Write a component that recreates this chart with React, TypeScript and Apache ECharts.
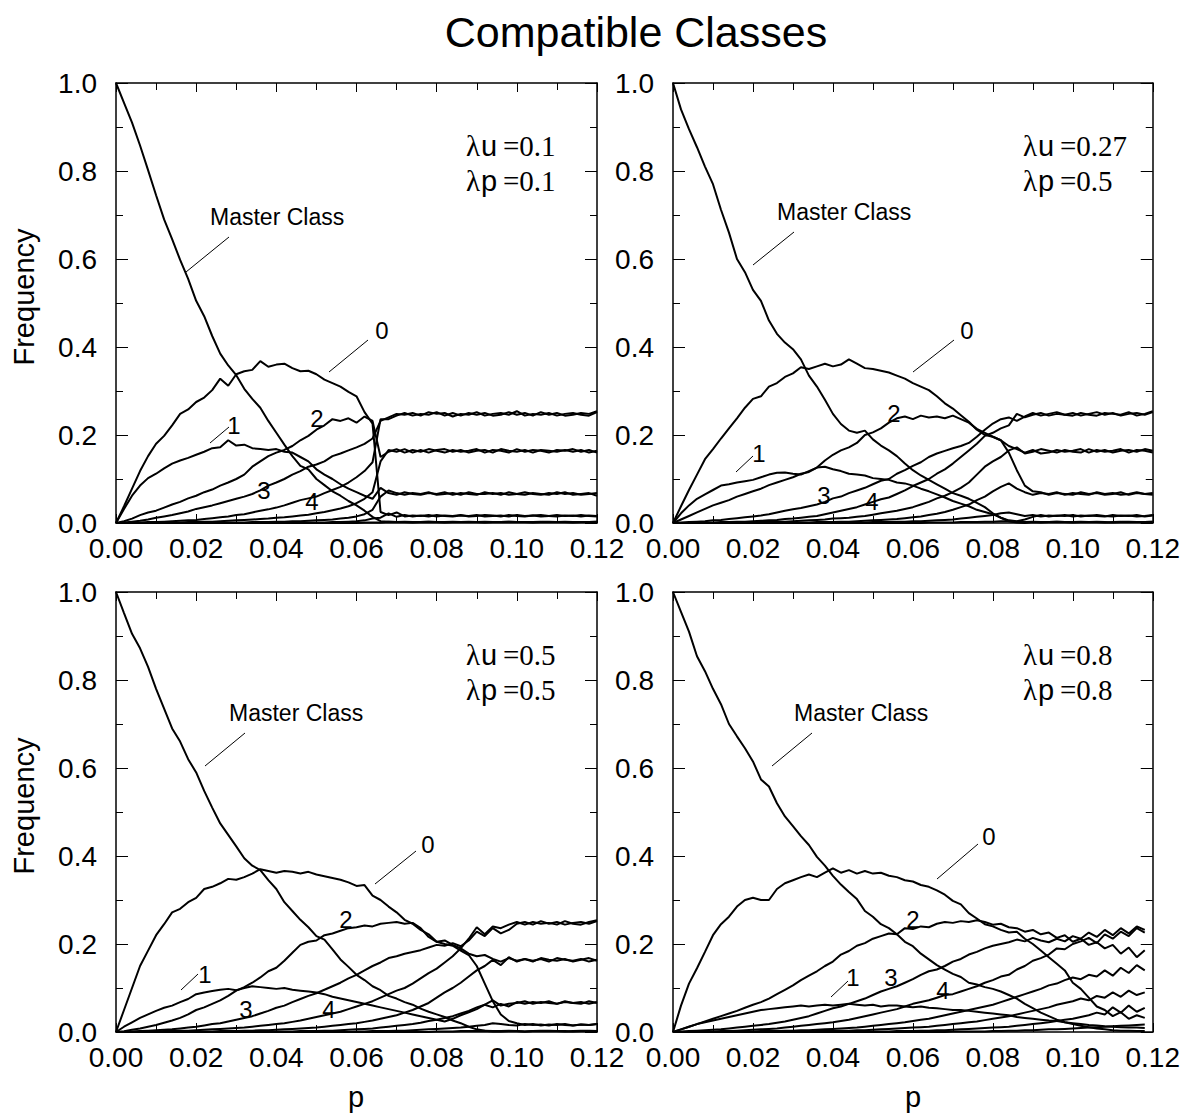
import React, { useEffect, useRef } from "react";
import * as echarts from "echarts";

// ---------- sampling positions (p) ----------
const pGrid = [
  0.000, 0.002, 0.004, 0.006, 0.008, 0.010, 0.012, 0.014, 0.016, 0.018,
  0.020, 0.022, 0.024, 0.026, 0.028, 0.030, 0.032, 0.034, 0.036, 0.038,
  0.040, 0.042, 0.044, 0.046, 0.048, 0.050, 0.052, 0.054, 0.056, 0.058,
  0.060, 0.062, 0.064, 0.066, 0.068, 0.070, 0.072, 0.074, 0.076, 0.078,
  0.080, 0.082, 0.084, 0.086, 0.088, 0.090, 0.092, 0.094, 0.096, 0.098,
  0.100, 0.102, 0.104, 0.106, 0.108, 0.110, 0.112, 0.114, 0.116, 0.118,
  0.120,
];

const xTickLabels = ["0.00", "0.02", "0.04", "0.06", "0.08", "0.10", "0.12"];
const yTickLabels = ["0.0", "0.2", "0.4", "0.6", "0.8", "1.0"];

// ---------- Panel 1: λu=0.1, λp=0.1 ----------
const p1Master = [
  1.000, 0.955, 0.910, 0.858, 0.802, 0.745, 0.690, 0.645, 0.598, 0.555,
  0.505, 0.470, 0.425, 0.385, 0.358, 0.336, 0.305, 0.282, 0.262, 0.232,
  0.205, 0.178, 0.152, 0.130, 0.122, 0.100, 0.086, 0.072, 0.062, 0.050,
  0.040, 0.028, 0.014, 0.004, 0.003, 0.002, 0.003, 0.002, 0.002, 0.003,
  0.002, 0.002, 0.003, 0.002, 0.002, 0.002, 0.003, 0.002, 0.002, 0.003,
  0.002, 0.002, 0.002, 0.003, 0.002, 0.002, 0.003, 0.002, 0.002, 0.002,
  0.003,
];
const p1C0 = [
  0.000, 0.038, 0.078, 0.118, 0.152, 0.180, 0.198, 0.222, 0.248, 0.258,
  0.275, 0.285, 0.302, 0.328, 0.312, 0.338, 0.345, 0.348, 0.368, 0.355,
  0.360, 0.362, 0.352, 0.345, 0.346, 0.338, 0.326, 0.318, 0.310, 0.298,
  0.288, 0.252, 0.226, 0.025, 0.018, 0.024, 0.015, 0.017, 0.016, 0.018,
  0.015, 0.017, 0.016, 0.018, 0.015, 0.016, 0.018, 0.017, 0.015, 0.018,
  0.016, 0.015, 0.017, 0.018, 0.016, 0.015, 0.017, 0.016, 0.018, 0.016,
  0.015,
];
const p1C1 = [
  0.000, 0.032, 0.062, 0.085, 0.102, 0.112, 0.124, 0.135, 0.142, 0.148,
  0.155, 0.162, 0.170, 0.172, 0.188, 0.176, 0.178, 0.170, 0.168, 0.166,
  0.168, 0.162, 0.160, 0.150, 0.140, 0.122, 0.110, 0.100, 0.088, 0.078,
  0.070, 0.062, 0.055, 0.080, 0.068, 0.064, 0.070, 0.066, 0.064, 0.068,
  0.066, 0.070, 0.064, 0.068, 0.066, 0.064, 0.070, 0.066, 0.068, 0.064,
  0.066, 0.070, 0.066, 0.064, 0.068, 0.066, 0.070, 0.064, 0.066, 0.068,
  0.062,
];
const p1C2 = [
  0.000, 0.004, 0.010, 0.018, 0.024, 0.028, 0.035, 0.042, 0.048, 0.056,
  0.062, 0.070, 0.076, 0.085, 0.092, 0.100, 0.110, 0.128, 0.140, 0.152,
  0.160, 0.166, 0.175, 0.188, 0.198, 0.212, 0.222, 0.236, 0.232, 0.238,
  0.228, 0.242, 0.232, 0.150, 0.162, 0.168, 0.160, 0.166, 0.162, 0.168,
  0.164, 0.160, 0.166, 0.162, 0.164, 0.168, 0.160, 0.166, 0.164, 0.160,
  0.168, 0.162, 0.166, 0.164, 0.160, 0.166, 0.164, 0.168, 0.162, 0.166,
  0.160,
];
const p1C3 = [
  0.000, 0.001, 0.003, 0.005, 0.008, 0.012, 0.015, 0.018, 0.022, 0.026,
  0.032, 0.036, 0.040, 0.045, 0.050, 0.055, 0.060, 0.066, 0.074, 0.085,
  0.092, 0.100, 0.110, 0.118, 0.128, 0.133, 0.140, 0.152, 0.158, 0.165,
  0.172, 0.180, 0.192, 0.232, 0.240, 0.248, 0.246, 0.250, 0.244, 0.252,
  0.248, 0.250, 0.242, 0.248, 0.246, 0.252, 0.244, 0.248, 0.250, 0.246,
  0.254, 0.244, 0.248, 0.246, 0.250, 0.244, 0.248, 0.250, 0.246, 0.244,
  0.252,
];
const p1C4 = [
  0.000, 0.000, 0.001, 0.001, 0.002, 0.002, 0.003, 0.004, 0.005, 0.006,
  0.007, 0.009, 0.011, 0.013, 0.015, 0.018, 0.020, 0.024, 0.028, 0.031,
  0.035, 0.040, 0.046, 0.052, 0.056, 0.060, 0.068, 0.075, 0.082, 0.092,
  0.104, 0.118, 0.138, 0.236, 0.236, 0.244, 0.250, 0.244, 0.248, 0.246,
  0.252, 0.244, 0.250, 0.244, 0.250, 0.246, 0.250, 0.244, 0.246, 0.252,
  0.246, 0.250, 0.244, 0.252, 0.246, 0.250, 0.244, 0.246, 0.250, 0.248,
  0.254,
];
const p1C5 = [
  0.000, 0.000, 0.000, 0.000, 0.000, 0.001, 0.001, 0.001, 0.001, 0.002,
  0.002, 0.003, 0.003, 0.004, 0.005, 0.006, 0.007, 0.008, 0.009, 0.010,
  0.012, 0.013, 0.015, 0.017, 0.019, 0.022, 0.025, 0.029, 0.033, 0.038,
  0.045, 0.055, 0.070, 0.140, 0.166, 0.162, 0.168, 0.160, 0.166, 0.160,
  0.166, 0.168, 0.162, 0.166, 0.160, 0.164, 0.166, 0.160, 0.168, 0.164,
  0.162, 0.166, 0.160, 0.166, 0.164, 0.162, 0.166, 0.162, 0.166, 0.160,
  0.164,
];
const p1C6 = [
  0.000, 0.000, 0.000, 0.000, 0.000, 0.000, 0.000, 0.000, 0.000, 0.000,
  0.000, 0.000, 0.001, 0.001, 0.001, 0.001, 0.001, 0.002, 0.002, 0.002,
  0.003, 0.003, 0.004, 0.004, 0.005, 0.006, 0.007, 0.008, 0.010, 0.012,
  0.015, 0.020, 0.030, 0.060, 0.074, 0.068, 0.064, 0.068, 0.066, 0.070,
  0.064, 0.066, 0.068, 0.064, 0.070, 0.066, 0.066, 0.068, 0.064, 0.070,
  0.066, 0.064, 0.068, 0.066, 0.064, 0.070, 0.066, 0.068, 0.064, 0.066,
  0.068,
];
const p1C7 = [
  0.000, 0.000, 0.000, 0.000, 0.000, 0.000, 0.000, 0.000, 0.000, 0.000,
  0.000, 0.000, 0.000, 0.000, 0.000, 0.000, 0.000, 0.000, 0.000, 0.000,
  0.000, 0.000, 0.000, 0.001, 0.001, 0.001, 0.001, 0.002, 0.002, 0.003,
  0.004, 0.006, 0.010, 0.012, 0.022, 0.014, 0.018, 0.015, 0.017, 0.015,
  0.018, 0.016, 0.015, 0.017, 0.016, 0.018, 0.015, 0.016, 0.017, 0.015,
  0.018, 0.016, 0.017, 0.015, 0.016, 0.018, 0.016, 0.017, 0.015, 0.017,
  0.016,
];
const p1C8 = [
  0.000, 0.000, 0.000, 0.000, 0.000, 0.000, 0.000, 0.000, 0.000, 0.000,
  0.000, 0.000, 0.000, 0.000, 0.000, 0.000, 0.000, 0.000, 0.000, 0.000,
  0.000, 0.000, 0.000, 0.000, 0.000, 0.000, 0.000, 0.000, 0.000, 0.000,
  0.000, 0.001, 0.001, 0.001, 0.003, 0.002, 0.002, 0.001, 0.002, 0.003,
  0.002, 0.001, 0.002, 0.002, 0.003, 0.002, 0.001, 0.002, 0.002, 0.003,
  0.002, 0.002, 0.001, 0.002, 0.003, 0.002, 0.002, 0.001, 0.002, 0.002,
  0.003,
];

// ---------- Panel 2: λu=0.27, λp=0.5 ----------
const p2Master = [
  1.000, 0.940, 0.895, 0.854, 0.810, 0.770, 0.712, 0.660, 0.600, 0.570,
  0.530, 0.505, 0.460, 0.430, 0.410, 0.395, 0.372, 0.335, 0.310, 0.280,
  0.248, 0.225, 0.210, 0.205, 0.210, 0.190, 0.176, 0.165, 0.152, 0.135,
  0.120, 0.108, 0.098, 0.088, 0.078, 0.068, 0.062, 0.055, 0.046, 0.036,
  0.022, 0.012, 0.004, 0.001, 0.000, 0.002, 0.001, 0.002, 0.003, 0.002,
  0.001, 0.002, 0.002, 0.003, 0.002, 0.001, 0.002, 0.003, 0.002, 0.002,
  0.003,
];
const p2C0 = [
  0.000, 0.038, 0.075, 0.110, 0.145, 0.168, 0.192, 0.215, 0.238, 0.262,
  0.282, 0.288, 0.310, 0.318, 0.332, 0.340, 0.354, 0.350, 0.356, 0.362,
  0.356, 0.360, 0.372, 0.362, 0.352, 0.350, 0.346, 0.342, 0.335, 0.328,
  0.318, 0.310, 0.302, 0.288, 0.272, 0.260, 0.245, 0.230, 0.212, 0.200,
  0.196, 0.188, 0.160, 0.120, 0.085, 0.072, 0.070, 0.064, 0.068, 0.066,
  0.064, 0.070, 0.066, 0.068, 0.064, 0.066, 0.070, 0.064, 0.068, 0.066,
  0.064,
];
const p2C1 = [
  0.000, 0.022, 0.040, 0.055, 0.065, 0.075, 0.085, 0.088, 0.092, 0.095,
  0.098, 0.104, 0.110, 0.114, 0.115, 0.112, 0.110, 0.118, 0.126, 0.128,
  0.122, 0.118, 0.112, 0.110, 0.108, 0.102, 0.100, 0.098, 0.092, 0.090,
  0.085, 0.078, 0.072, 0.065, 0.058, 0.050, 0.044, 0.038, 0.030, 0.025,
  0.020, 0.012, 0.006, 0.004, 0.008, 0.014, 0.018, 0.015, 0.017, 0.016,
  0.018, 0.015, 0.017, 0.016, 0.015, 0.018, 0.016, 0.017, 0.015, 0.016,
  0.018,
];
const p2C2 = [
  0.000, 0.008, 0.016, 0.024, 0.032, 0.040, 0.046, 0.052, 0.060, 0.066,
  0.072, 0.078, 0.086, 0.092, 0.098, 0.104, 0.112, 0.116, 0.126, 0.142,
  0.155, 0.165, 0.172, 0.182, 0.200, 0.206, 0.215, 0.228, 0.238, 0.242,
  0.236, 0.244, 0.240, 0.242, 0.238, 0.244, 0.236, 0.228, 0.214, 0.205,
  0.196, 0.188, 0.175, 0.168, 0.160, 0.166, 0.158, 0.160, 0.166, 0.162,
  0.164, 0.168, 0.160, 0.166, 0.162, 0.164, 0.168, 0.160, 0.166, 0.164,
  0.160,
];
const p2C3 = [
  0.000, 0.001, 0.002, 0.003, 0.004, 0.006, 0.007, 0.009, 0.011, 0.013,
  0.015, 0.017, 0.020, 0.024, 0.028, 0.031, 0.034, 0.038, 0.042, 0.048,
  0.056, 0.060, 0.068, 0.074, 0.080, 0.088, 0.096, 0.100, 0.112, 0.120,
  0.130, 0.138, 0.150, 0.158, 0.164, 0.170, 0.175, 0.182, 0.196, 0.212,
  0.226, 0.236, 0.240, 0.232, 0.242, 0.250, 0.244, 0.248, 0.252, 0.246,
  0.250, 0.244, 0.248, 0.252, 0.246, 0.250, 0.244, 0.248, 0.250, 0.246,
  0.252,
];
const p2C4 = [
  0.000, 0.000, 0.000, 0.001, 0.001, 0.001, 0.002, 0.002, 0.003, 0.003,
  0.004, 0.005, 0.006, 0.007, 0.009, 0.010, 0.012, 0.014, 0.016, 0.020,
  0.024, 0.028, 0.032, 0.036, 0.042, 0.048, 0.054, 0.058, 0.066, 0.074,
  0.084, 0.092, 0.100, 0.112, 0.122, 0.135, 0.150, 0.165, 0.180, 0.198,
  0.205, 0.215, 0.222, 0.248, 0.240, 0.246, 0.250, 0.244, 0.248, 0.246,
  0.244, 0.250, 0.246, 0.244, 0.250, 0.248, 0.246, 0.252, 0.244, 0.248,
  0.254,
];
const p2C5 = [
  0.000, 0.000, 0.000, 0.000, 0.000, 0.000, 0.000, 0.001, 0.001, 0.001,
  0.001, 0.002, 0.002, 0.003, 0.003, 0.004, 0.005, 0.006, 0.007, 0.008,
  0.010, 0.011, 0.012, 0.014, 0.016, 0.019, 0.022, 0.025, 0.028, 0.032,
  0.036, 0.042, 0.048, 0.056, 0.062, 0.070, 0.080, 0.092, 0.110, 0.128,
  0.140, 0.150, 0.165, 0.172, 0.158, 0.162, 0.168, 0.164, 0.160, 0.166,
  0.162, 0.160, 0.168, 0.162, 0.166, 0.160, 0.164, 0.166, 0.162, 0.168,
  0.164,
];
const p2C6 = [
  0.000, 0.000, 0.000, 0.000, 0.000, 0.000, 0.000, 0.000, 0.000, 0.000,
  0.000, 0.000, 0.000, 0.000, 0.001, 0.001, 0.001, 0.001, 0.002, 0.002,
  0.002, 0.003, 0.003, 0.004, 0.005, 0.006, 0.007, 0.008, 0.009, 0.011,
  0.013, 0.015, 0.018, 0.021, 0.025, 0.030, 0.036, 0.042, 0.052, 0.060,
  0.072, 0.082, 0.090, 0.078, 0.070, 0.064, 0.068, 0.066, 0.070, 0.064,
  0.068, 0.066, 0.064, 0.070, 0.066, 0.068, 0.064, 0.066, 0.070, 0.066,
  0.068,
];
const p2C7 = [
  0.000, 0.000, 0.000, 0.000, 0.000, 0.000, 0.000, 0.000, 0.000, 0.000,
  0.000, 0.000, 0.000, 0.000, 0.000, 0.000, 0.000, 0.000, 0.000, 0.000,
  0.000, 0.001, 0.001, 0.001, 0.001, 0.002, 0.002, 0.002, 0.003, 0.003,
  0.004, 0.004, 0.005, 0.006, 0.007, 0.008, 0.010, 0.012, 0.014, 0.016,
  0.018, 0.022, 0.024, 0.020, 0.016, 0.018, 0.015, 0.017, 0.016, 0.018,
  0.015, 0.017, 0.016, 0.018, 0.016, 0.015, 0.017, 0.016, 0.018, 0.015,
  0.017,
];
const p2C8 = [
  0.000, 0.000, 0.000, 0.000, 0.000, 0.000, 0.000, 0.000, 0.000, 0.000,
  0.000, 0.000, 0.000, 0.000, 0.000, 0.000, 0.000, 0.000, 0.000, 0.000,
  0.000, 0.000, 0.000, 0.000, 0.000, 0.000, 0.000, 0.000, 0.000, 0.000,
  0.000, 0.000, 0.001, 0.001, 0.001, 0.001, 0.002, 0.002, 0.002, 0.003,
  0.003, 0.004, 0.004, 0.003, 0.002, 0.003, 0.002, 0.002, 0.003, 0.002,
  0.002, 0.003, 0.002, 0.002, 0.001, 0.002, 0.003, 0.002, 0.002, 0.002,
  0.003,
];

// ---------- Panel 3: λu=0.5, λp=0.5 ----------
const p3Master = [
  1.000, 0.952, 0.905, 0.872, 0.830, 0.780, 0.735, 0.690, 0.660, 0.620,
  0.590, 0.548, 0.510, 0.474, 0.448, 0.422, 0.395, 0.378, 0.368, 0.345,
  0.325, 0.295, 0.275, 0.255, 0.238, 0.218, 0.210, 0.188, 0.165, 0.148,
  0.130, 0.118, 0.104, 0.095, 0.082, 0.076, 0.068, 0.062, 0.053, 0.046,
  0.040, 0.034, 0.026, 0.020, 0.012, 0.006, 0.003, 0.001, 0.001, 0.002,
  0.002, 0.001, 0.002, 0.003, 0.002, 0.002, 0.001, 0.002, 0.003, 0.002,
  0.002,
];
const p3C0 = [
  0.000, 0.050, 0.100, 0.150, 0.185, 0.220, 0.245, 0.272, 0.280, 0.295,
  0.305, 0.325, 0.330, 0.338, 0.348, 0.346, 0.352, 0.360, 0.370, 0.366,
  0.362, 0.366, 0.364, 0.360, 0.364, 0.358, 0.354, 0.350, 0.346, 0.340,
  0.332, 0.334, 0.310, 0.300, 0.285, 0.272, 0.255, 0.246, 0.232, 0.222,
  0.205, 0.200, 0.196, 0.185, 0.175, 0.150, 0.110, 0.070, 0.040, 0.025,
  0.020, 0.016, 0.018, 0.015, 0.017, 0.016, 0.018, 0.015, 0.017, 0.016,
  0.018,
];
const p3C1 = [
  0.000, 0.012, 0.022, 0.032, 0.040, 0.048, 0.055, 0.060, 0.068, 0.075,
  0.086, 0.090, 0.093, 0.096, 0.098, 0.095, 0.100, 0.104, 0.102, 0.100,
  0.098, 0.100, 0.096, 0.094, 0.092, 0.090, 0.086, 0.080, 0.076, 0.072,
  0.068, 0.064, 0.060, 0.056, 0.052, 0.048, 0.044, 0.040, 0.036, 0.032,
  0.028, 0.024, 0.030, 0.038, 0.045, 0.052, 0.062, 0.056, 0.064, 0.058,
  0.068, 0.064, 0.068, 0.066, 0.070, 0.064, 0.068, 0.066, 0.064, 0.070,
  0.066,
];
const p3C2 = [
  0.000, 0.002, 0.005, 0.008, 0.012, 0.016, 0.021, 0.026, 0.032, 0.040,
  0.050, 0.056, 0.064, 0.072, 0.082, 0.094, 0.102, 0.112, 0.124, 0.138,
  0.146, 0.162, 0.180, 0.198, 0.205, 0.208, 0.220, 0.224, 0.230, 0.236,
  0.238, 0.242, 0.240, 0.246, 0.248, 0.250, 0.246, 0.248, 0.236, 0.216,
  0.205, 0.208, 0.198, 0.190, 0.178, 0.172, 0.175, 0.166, 0.160, 0.168,
  0.162, 0.166, 0.160, 0.168, 0.164, 0.162, 0.166, 0.160, 0.164, 0.168,
  0.162,
];
const p3C3 = [
  0.000, 0.000, 0.001, 0.002, 0.003, 0.004, 0.005, 0.006, 0.008, 0.010,
  0.012, 0.015, 0.018, 0.020, 0.024, 0.028, 0.032, 0.036, 0.042, 0.048,
  0.055, 0.060, 0.068, 0.075, 0.082, 0.088, 0.096, 0.104, 0.112, 0.122,
  0.130, 0.140, 0.150, 0.158, 0.168, 0.172, 0.178, 0.182, 0.186, 0.192,
  0.198, 0.196, 0.202, 0.195, 0.208, 0.228, 0.218, 0.236, 0.224, 0.232,
  0.246, 0.250, 0.244, 0.252, 0.246, 0.250, 0.244, 0.248, 0.250, 0.246,
  0.252,
];
const p3C4 = [
  0.000, 0.000, 0.000, 0.001, 0.001, 0.001, 0.002, 0.002, 0.003, 0.003,
  0.004, 0.005, 0.006, 0.007, 0.008, 0.009, 0.010, 0.012, 0.014, 0.016,
  0.018, 0.020, 0.023, 0.026, 0.030, 0.034, 0.038, 0.042, 0.046, 0.052,
  0.058, 0.064, 0.070, 0.078, 0.086, 0.094, 0.100, 0.110, 0.122, 0.134,
  0.144, 0.158, 0.172, 0.190, 0.212, 0.238, 0.222, 0.240, 0.236, 0.244,
  0.250, 0.244, 0.250, 0.246, 0.248, 0.244, 0.252, 0.246, 0.244, 0.250,
  0.254,
];
const p3C5 = [
  0.000, 0.000, 0.000, 0.000, 0.000, 0.000, 0.000, 0.000, 0.001, 0.001,
  0.001, 0.001, 0.001, 0.002, 0.002, 0.002, 0.003, 0.003, 0.004, 0.004,
  0.005, 0.006, 0.007, 0.008, 0.009, 0.010, 0.012, 0.014, 0.016, 0.018,
  0.020, 0.023, 0.026, 0.030, 0.034, 0.038, 0.044, 0.050, 0.058, 0.066,
  0.078, 0.090, 0.100, 0.112, 0.126, 0.140, 0.150, 0.164, 0.152, 0.170,
  0.160, 0.166, 0.162, 0.166, 0.160, 0.168, 0.164, 0.162, 0.166, 0.160,
  0.164,
];
const p3C6 = [
  0.000, 0.000, 0.000, 0.000, 0.000, 0.000, 0.000, 0.000, 0.000, 0.000,
  0.000, 0.000, 0.000, 0.000, 0.000, 0.000, 0.000, 0.000, 0.000, 0.000,
  0.001, 0.001, 0.001, 0.002, 0.002, 0.002, 0.003, 0.003, 0.004, 0.005,
  0.006, 0.007, 0.008, 0.010, 0.012, 0.014, 0.016, 0.018, 0.021, 0.025,
  0.028, 0.032, 0.036, 0.042, 0.048, 0.056, 0.062, 0.072, 0.060, 0.064,
  0.066, 0.070, 0.064, 0.068, 0.066, 0.064, 0.070, 0.066, 0.068, 0.064,
  0.068,
];
const p3C7 = [
  0.000, 0.000, 0.000, 0.000, 0.000, 0.000, 0.000, 0.000, 0.000, 0.000,
  0.000, 0.000, 0.000, 0.000, 0.000, 0.000, 0.000, 0.000, 0.000, 0.000,
  0.000, 0.000, 0.000, 0.000, 0.000, 0.000, 0.000, 0.000, 0.000, 0.000,
  0.001, 0.001, 0.002, 0.002, 0.002, 0.003, 0.003, 0.004, 0.005, 0.006,
  0.007, 0.008, 0.009, 0.010, 0.012, 0.014, 0.016, 0.020, 0.018, 0.016,
  0.015, 0.018, 0.016, 0.017, 0.015, 0.018, 0.016, 0.015, 0.017, 0.016,
  0.018,
];
const p3C8 = [
  0.000, 0.000, 0.000, 0.000, 0.000, 0.000, 0.000, 0.000, 0.000, 0.000,
  0.000, 0.000, 0.000, 0.000, 0.000, 0.000, 0.000, 0.000, 0.000, 0.000,
  0.000, 0.000, 0.000, 0.000, 0.000, 0.000, 0.000, 0.000, 0.000, 0.000,
  0.000, 0.000, 0.000, 0.000, 0.000, 0.000, 0.000, 0.000, 0.000, 0.000,
  0.001, 0.001, 0.001, 0.002, 0.002, 0.002, 0.003, 0.002, 0.002, 0.003,
  0.002, 0.001, 0.002, 0.002, 0.003, 0.002, 0.002, 0.001, 0.002, 0.003,
  0.002,
];

// ---------- Panel 4: λu=0.8, λp=0.8 (data stops at p=0.118) ----------
const p4Master = [
  1.000, 0.955, 0.910, 0.854, 0.820, 0.780, 0.745, 0.700, 0.672, 0.645,
  0.615, 0.574, 0.558, 0.520, 0.490, 0.468, 0.445, 0.425, 0.398, 0.378,
  0.355, 0.335, 0.318, 0.302, 0.275, 0.262, 0.245, 0.236, 0.222, 0.205,
  0.195, 0.178, 0.165, 0.152, 0.142, 0.132, 0.125, 0.112, 0.108, 0.102,
  0.098, 0.092, 0.084, 0.076, 0.064, 0.054, 0.044, 0.036, 0.028, 0.022,
  0.018, 0.014, 0.011, 0.008, 0.006, 0.004, 0.003, 0.003, 0.002, 0.002,
];
const p4C0 = [
  0.000, 0.060, 0.110, 0.145, 0.182, 0.220, 0.245, 0.262, 0.285, 0.300,
  0.305, 0.300, 0.300, 0.325, 0.338, 0.345, 0.352, 0.358, 0.352, 0.362,
  0.372, 0.362, 0.368, 0.360, 0.366, 0.360, 0.362, 0.355, 0.352, 0.345,
  0.342, 0.334, 0.330, 0.322, 0.312, 0.298, 0.290, 0.270, 0.258, 0.245,
  0.240, 0.232, 0.226, 0.228, 0.212, 0.200, 0.185, 0.170, 0.155, 0.140,
  0.112, 0.098, 0.078, 0.058, 0.050, 0.036, 0.045, 0.030, 0.038, 0.032,
];
const p4C1 = [
  0.000, 0.006, 0.012, 0.018, 0.022, 0.026, 0.030, 0.034, 0.038, 0.042,
  0.046, 0.050, 0.052, 0.054, 0.056, 0.058, 0.060, 0.058, 0.060, 0.062,
  0.060, 0.062, 0.064, 0.062, 0.060, 0.062, 0.058, 0.060, 0.060, 0.058,
  0.056, 0.058, 0.055, 0.054, 0.052, 0.050, 0.050, 0.048, 0.046, 0.044,
  0.042, 0.040, 0.038, 0.034, 0.032, 0.030, 0.028, 0.026, 0.025, 0.022,
  0.020, 0.018, 0.016, 0.015, 0.013, 0.012, 0.011, 0.010, 0.010, 0.009,
];
const p4C2 = [
  0.000, 0.006, 0.012, 0.018, 0.024, 0.030, 0.036, 0.042, 0.048, 0.055,
  0.062, 0.068, 0.076, 0.086, 0.096, 0.106, 0.118, 0.128, 0.138, 0.150,
  0.160, 0.176, 0.184, 0.196, 0.202, 0.212, 0.218, 0.224, 0.222, 0.236,
  0.234, 0.240, 0.238, 0.246, 0.250, 0.248, 0.252, 0.250, 0.254, 0.250,
  0.244, 0.246, 0.238, 0.236, 0.228, 0.232, 0.222, 0.226, 0.214, 0.220,
  0.205, 0.212, 0.198, 0.204, 0.190, 0.198, 0.178, 0.192, 0.170, 0.186,
];
const p4C3 = [
  0.000, 0.001, 0.002, 0.003, 0.004, 0.005, 0.006, 0.008, 0.010, 0.012,
  0.014, 0.016, 0.018, 0.021, 0.024, 0.028, 0.032, 0.036, 0.042, 0.048,
  0.054, 0.058, 0.064, 0.070, 0.076, 0.084, 0.092, 0.098, 0.104, 0.112,
  0.120, 0.130, 0.138, 0.142, 0.150, 0.160, 0.166, 0.176, 0.182, 0.190,
  0.196, 0.200, 0.204, 0.210, 0.206, 0.214, 0.208, 0.204, 0.212, 0.206,
  0.218, 0.212, 0.226, 0.216, 0.232, 0.220, 0.236, 0.224, 0.240, 0.232,
];
const p4C4 = [
  0.000, 0.000, 0.000, 0.001, 0.001, 0.001, 0.002, 0.002, 0.003, 0.004,
  0.005, 0.006, 0.007, 0.008, 0.010, 0.012, 0.014, 0.016, 0.018, 0.020,
  0.022, 0.025, 0.028, 0.032, 0.036, 0.040, 0.044, 0.048, 0.052, 0.058,
  0.064, 0.068, 0.072, 0.078, 0.084, 0.086, 0.092, 0.098, 0.104, 0.112,
  0.118, 0.126, 0.130, 0.142, 0.150, 0.162, 0.168, 0.176, 0.190, 0.188,
  0.200, 0.206, 0.214, 0.202, 0.222, 0.212, 0.228, 0.218, 0.236, 0.226,
];
const p4C5 = [
  0.000, 0.000, 0.000, 0.000, 0.000, 0.000, 0.000, 0.001, 0.001, 0.001,
  0.001, 0.002, 0.002, 0.002, 0.003, 0.003, 0.004, 0.004, 0.005, 0.006,
  0.007, 0.008, 0.009, 0.010, 0.012, 0.014, 0.016, 0.018, 0.020, 0.022,
  0.025, 0.028, 0.030, 0.034, 0.038, 0.042, 0.046, 0.050, 0.054, 0.058,
  0.062, 0.068, 0.074, 0.080, 0.086, 0.092, 0.098, 0.106, 0.110, 0.118,
  0.124, 0.120, 0.130, 0.126, 0.140, 0.128, 0.146, 0.134, 0.152, 0.140,
];
const p4C6 = [
  0.000, 0.000, 0.000, 0.000, 0.000, 0.000, 0.000, 0.000, 0.000, 0.000,
  0.000, 0.000, 0.000, 0.000, 0.000, 0.001, 0.001, 0.001, 0.002, 0.002,
  0.002, 0.003, 0.003, 0.004, 0.004, 0.005, 0.006, 0.007, 0.008, 0.009,
  0.010, 0.011, 0.012, 0.014, 0.016, 0.018, 0.020, 0.022, 0.024, 0.027,
  0.030, 0.033, 0.036, 0.040, 0.044, 0.048, 0.052, 0.056, 0.062, 0.066,
  0.070, 0.076, 0.072, 0.082, 0.078, 0.090, 0.080, 0.094, 0.084, 0.090,
];
const p4C7 = [
  0.000, 0.000, 0.000, 0.000, 0.000, 0.000, 0.000, 0.000, 0.000, 0.000,
  0.000, 0.000, 0.000, 0.000, 0.000, 0.000, 0.000, 0.000, 0.000, 0.000,
  0.000, 0.000, 0.000, 0.000, 0.000, 0.001, 0.001, 0.001, 0.002, 0.002,
  0.002, 0.003, 0.003, 0.004, 0.004, 0.005, 0.006, 0.007, 0.008, 0.009,
  0.010, 0.011, 0.012, 0.014, 0.016, 0.018, 0.020, 0.022, 0.025, 0.028,
  0.030, 0.034, 0.038, 0.044, 0.040, 0.056, 0.044, 0.060, 0.046, 0.055,
];
const p4C8 = [
  0.000, 0.000, 0.000, 0.000, 0.000, 0.000, 0.000, 0.000, 0.000, 0.000,
  0.000, 0.000, 0.000, 0.000, 0.000, 0.000, 0.000, 0.000, 0.000, 0.000,
  0.000, 0.000, 0.000, 0.000, 0.000, 0.000, 0.000, 0.000, 0.000, 0.000,
  0.000, 0.000, 0.000, 0.000, 0.000, 0.001, 0.001, 0.001, 0.001, 0.001,
  0.002, 0.002, 0.003, 0.003, 0.004, 0.004, 0.005, 0.006, 0.006, 0.007,
  0.008, 0.009, 0.010, 0.011, 0.012, 0.013, 0.014, 0.015, 0.016, 0.017,
];

const panelLines = [
  [p1Master, p1C0, p1C1, p1C2, p1C3, p1C4, p1C5, p1C6, p1C7, p1C8],
  [p2Master, p2C0, p2C1, p2C2, p2C3, p2C4, p2C5, p2C6, p2C7, p2C8],
  [p3Master, p3C0, p3C1, p3C2, p3C3, p3C4, p3C5, p3C6, p3C7, p3C8],
  [p4Master, p4C0, p4C1, p4C2, p4C3, p4C4, p4C5, p4C6, p4C7, p4C8],
];
const lambdaU = ["0.1", "0.27", "0.5", "0.8"];
const lambdaP = ["0.1", "0.5", "0.5", "0.8"];

// ---------- layout (pixels) ----------
const GRIDS = [
  { left: 116, top: 83, width: 481, height: 440 },
  { left: 673, top: 83, width: 481, height: 440 },
  { left: 116, top: 592, width: 481, height: 440 },
  { left: 673, top: 592, width: 481, height: 440 },
];
const LABELS = [
  {
    mc: [210, 217], mcLine: [186, 272, 229, 237],
    zero: [382, 330], zeroLine: [329, 372, 368, 340],
    one: [234, 425], oneLine: [210, 443, 229, 427],
    two: [317, 418], three: [264, 490], four: [312, 501],
    lam: [466, 146],
  },
  {
    mc: [777, 212], mcLine: [753, 265, 794, 232],
    zero: [967, 330], zeroLine: [913, 372, 954, 340],
    one: [759, 453], oneLine: [736, 472, 753, 456],
    two: [894, 413], three: [824, 495], four: [872, 501],
    lam: [1023, 146],
  },
  {
    mc: [229, 713], mcLine: [205, 766, 245, 733],
    zero: [428, 844], zeroLine: [375, 884, 416, 851],
    one: [205, 974], oneLine: [181, 990, 198, 974],
    two: [346, 919], three: [246, 1009], four: [329, 1009],
    lam: [466, 655],
  },
  {
    mc: [794, 713], mcLine: [772, 766, 812, 733],
    zero: [989, 836], zeroLine: [937, 879, 978, 844],
    one: [853, 977], oneLine: [831, 997, 848, 981],
    two: [913, 919], three: [891, 977], four: [943, 990],
    lam: [1023, 655],
  },
];

const SANS = "'Liberation Sans', Arial, Helvetica, sans-serif";
const SERIF = "'Liberation Serif', 'Times New Roman', serif";

function txt(x: number, y: number, text: string, size: number, family: string, align = "center", extra: any = {}) {
  return {
    type: "text",
    x,
    y,
    silent: true,
    ...extra,
    style: {
      text,
      fontSize: size,
      fontFamily: family,
      fill: "#000",
      align,
      textAlign: align,
      verticalAlign: "middle",
      textVerticalAlign: "middle",
    },
  };
}
function seg(l: number[]) {
  return {
    type: "line",
    silent: true,
    shape: { x1: l[0], y1: l[1], x2: l[2], y2: l[3] },
    style: { stroke: "#000", lineWidth: 1 },
  };
}

function buildOption() {
  const xAxis: any[] = [];
  const yAxis: any[] = [];
  const series: any[] = [];
  const axisLine = { show: true, onZero: false, lineStyle: { color: "#000", width: 1.5 } };
  GRIDS.forEach((_, gi) => {
    const xBase = {
      type: "value",
      gridIndex: gi,
      min: 0,
      max: 0.12,
      interval: 0.02,
      axisLine,
      axisTick: { show: true, inside: true, length: 9, lineStyle: { color: "#000", width: 1 } },
      minorTick: { show: true, splitNumber: 2, length: 7, lineStyle: { color: "#000", width: 1 } },
      splitLine: { show: false },
      minorSplitLine: { show: false },
    };
    xAxis.push({
      ...xBase,
      position: "bottom",
      axisLabel: {
        show: true,
        margin: 11,
        fontSize: 28,
        fontFamily: SANS,
        color: "#000",
        formatter: (v: number) => xTickLabels[Math.round(v / 0.02)] ?? "",
      },
    });
    xAxis.push({ ...xBase, position: "top", axisLabel: { show: false } });
    const yBase = {
      type: "value",
      gridIndex: gi,
      min: 0,
      max: 1,
      interval: 0.2,
      axisLine,
      axisTick: { show: true, inside: true, length: 12, lineStyle: { color: "#000", width: 1 } },
      minorTick: { show: true, splitNumber: 2, length: 7, lineStyle: { color: "#000", width: 1 } },
      splitLine: { show: false },
      minorSplitLine: { show: false },
    };
    yAxis.push({
      ...yBase,
      position: "left",
      axisLabel: {
        show: true,
        margin: 19,
        fontSize: 28,
        fontFamily: SANS,
        color: "#000",
        formatter: (v: number) => yTickLabels[Math.round(v / 0.2)] ?? "",
      },
    });
    yAxis.push({ ...yBase, position: "right", axisLabel: { show: false } });

    panelLines[gi].forEach((vals, li) => {
      series.push({
        type: "line",
        name: `panel${gi + 1}-line${li}`,
        xAxisIndex: gi * 2,
        yAxisIndex: gi * 2,
        data: vals.map((v, i) => [pGrid[i], v]),
        showSymbol: false,
        symbol: "none",
        silent: true,
        clip: true,
        lineStyle: { color: "#000", width: 2 },
        z: 3,
      });
    });
  });

  const graphics: any[] = [];
  graphics.push(txt(636, 32, "Compatible Classes", 43, SANS));
  graphics.push(txt(24, 297, "Frequency", 29, SANS, "center", { rotation: Math.PI / 2 }));
  graphics.push(txt(24, 806, "Frequency", 29, SANS, "center", { rotation: Math.PI / 2 }));
  graphics.push(txt(356, 1097, "p", 29, SANS));
  graphics.push(txt(913, 1097, "p", 29, SANS));

  LABELS.forEach((L, gi) => {
    graphics.push(txt(L.mc[0], L.mc[1], "Master Class", 23, SANS, "left"));
    graphics.push(seg(L.mcLine));
    graphics.push(txt(L.zero[0], L.zero[1], "0", 24, SANS));
    graphics.push(seg(L.zeroLine));
    graphics.push(txt(L.one[0], L.one[1], "1", 24, SANS));
    graphics.push(seg(L.oneLine));
    graphics.push(txt(L.two[0], L.two[1], "2", 24, SANS));
    graphics.push(txt(L.three[0], L.three[1], "3", 24, SANS));
    graphics.push(txt(L.four[0], L.four[1], "4", 24, SANS));
    const [lx, ly] = L.lam;
    graphics.push(txt(lx, ly, "λ", 29, SERIF, "left"));
    graphics.push(txt(lx + 15, ly, "u", 29, SANS, "left"));
    graphics.push(txt(lx + 37, ly, "=" + lambdaU[gi], 29, SERIF, "left"));
    graphics.push(txt(lx, ly + 35, "λ", 29, SERIF, "left"));
    graphics.push(txt(lx + 15, ly + 35, "p", 29, SANS, "left"));
    graphics.push(txt(lx + 37, ly + 35, "=" + lambdaP[gi], 29, SERIF, "left"));
  });

  return {
    animation: false,
    backgroundColor: "#fff",
    grid: GRIDS.map((g) => ({ ...g, containLabel: false })),
    xAxis,
    yAxis,
    series,
    graphic: { elements: graphics },
  };
}

export default function App() {
  const ref = useRef<HTMLDivElement>(null);
  useEffect(() => {
    document.body.style.margin = "0";
    if (!ref.current) return;
    const chart = echarts.init(ref.current, null, { renderer: "svg" });
    chart.setOption(buildOption() as any);
    return () => chart.dispose();
  }, []);
  return <div ref={ref} style={{ width: 1183, height: 1113, background: "#fff" }} />;
}
